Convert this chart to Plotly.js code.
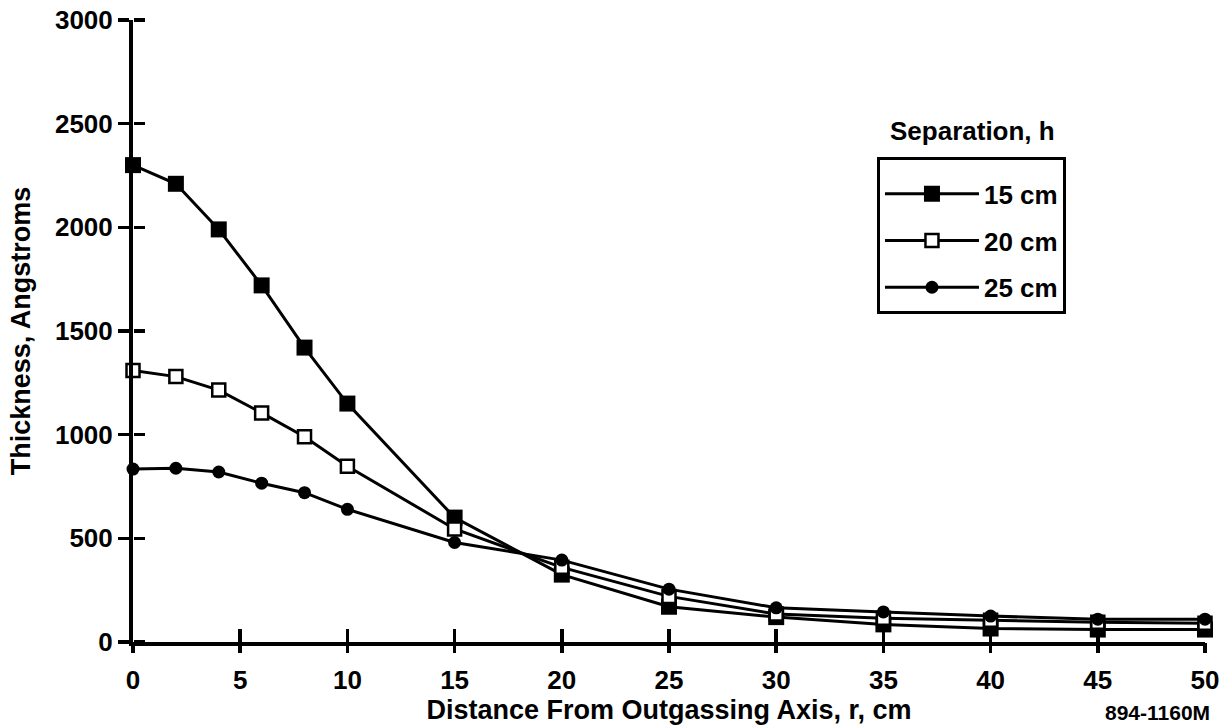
<!DOCTYPE html>
<html>
<head>
<meta charset="utf-8">
<script src="https://cdn.plot.ly/plotly-3.0.1.min.js"></script>
<style>html,body{margin:0;padding:0;background:#fff;}#chart{width:1227px;height:725px;}</style>
</head>
<body>
<div id="chart"></div>
<script>
// Distance from outgassing axis, r (cm)
const rValues = [0, 2, 4, 6, 8, 10, 15, 20, 25, 30, 35, 40, 45, 50];
// Thickness (Angstroms) for each separation h
const thick15 = [2300, 2210, 1990, 1720, 1420, 1150, 600, 325, 170, 120, 85, 65, 60, 60];
const thick20 = [1310, 1280, 1215, 1105, 990, 848, 545, 360, 220, 135, 115, 105, 95, 90];
const thick25 = [834, 838, 820, 766, 720, 640, 480, 395, 255, 165, 145, 125, 110, 110];
const seriesNames = ['15 cm', '20 cm', '25 cm'];
const xTicks = [0, 5, 10, 15, 20, 25, 30, 35, 40, 45, 50];
const yTicks = [0, 500, 1000, 1500, 2000, 2500, 3000];

const FONT = 'Liberation Sans, Arial, Helvetica, sans-serif';
const lineStyle = {color: '#000', width: 3};

const traces = [
  {x: rValues, y: thick15, name: seriesNames[0], mode: 'lines+markers', cliponaxis: false,
   line: lineStyle, legendgroup: 'a',
   marker: {symbol: 'square', size: 16, color: '#000', line: {color: '#000', width: 0}}},
  {x: rValues, y: thick20, name: seriesNames[1], mode: 'lines+markers', cliponaxis: false,
   line: lineStyle, legendgroup: 'b',
   marker: {symbol: 'square', size: 13, color: '#fff', line: {color: '#000', width: 2.5}}},
  {x: rValues, y: thick25, name: seriesNames[2], mode: 'lines+markers', cliponaxis: false,
   line: lineStyle, legendgroup: 'c',
   marker: {symbol: 'circle', size: 13, color: '#000', line: {color: '#000', width: 0}}}
];

const layout = {
  width: 1227, height: 725,
  margin: {l: 133, r: 22, t: 20, b: 83},
  paper_bgcolor: '#fff', plot_bgcolor: '#fff',
  font: {family: FONT, color: '#000', size: 26, weight: 700},
  showlegend: true,
  legend: {
    x: 0.694, y: 0.78, xanchor: 'left', yanchor: 'top',
    bordercolor: '#000', borderwidth: 3, bgcolor: '#fff',
    font: {family: FONT, size: 26, weight: 700, color: '#000'},
    title: {text: '&nbsp;', font: {family: FONT, size: 8}},
    traceorder: 'grouped', tracegroupgap: 10, itemwidth: 94
  },
  xaxis: {
    range: [0, 50], tickvals: xTicks, ticktext: xTicks.map(String),
    showline: true, linecolor: '#000', linewidth: 4,
    ticks: 'inside', ticklen: 13, tickwidth: 3.5, tickcolor: '#000',
    ticklabelstandoff: 12,
    showgrid: false, zeroline: false,
    tickfont: {family: FONT, size: 26, weight: 700},
    title: {text: 'Distance From Outgassing Axis, r, cm', standoff: 5,
            font: {family: FONT, size: 27, weight: 700}}
  },
  xaxis2: {
    range: [0, 50], overlaying: 'x', anchor: 'free', position: 0, side: 'bottom', tickvals: xTicks,
    showticklabels: false, showline: false, showgrid: false, zeroline: false,
    ticks: 'outside', ticklen: 10, tickwidth: 3.5, tickcolor: '#000'
  },
  yaxis: {
    range: [0, 3000], tickvals: yTicks, ticktext: yTicks.map(String),
    showline: true, linecolor: '#000', linewidth: 4,
    ticks: 'outside', ticklen: 11, tickwidth: 3.5, tickcolor: '#000',
    showgrid: false, zeroline: false,
    tickfont: {family: FONT, size: 26, weight: 700},
    title: {text: 'Thickness, Angstroms', standoff: 18,
            font: {family: FONT, size: 27, weight: 700}}
  },
  yaxis2: {
    range: [0, 3000], overlaying: 'y', anchor: 'free', position: 0, side: 'right', tickvals: yTicks,
    showticklabels: false, showline: false, showgrid: false, zeroline: false,
    ticks: 'outside', ticklen: 11, tickwidth: 3.5, tickcolor: '#000'
  },
  annotations: [
    {text: 'Separation, h', xref: 'paper', yref: 'paper', x: 0.783, y: 0.8215,
     xanchor: 'center', yanchor: 'middle', showarrow: false,
     font: {family: FONT, size: 26, weight: 700, color: '#000'}},
    {text: '894-1160M', xref: 'paper', yref: 'paper', x: 1.0065, y: -0.114,
     xanchor: 'right', yanchor: 'middle', showarrow: false,
     font: {family: FONT, size: 21, weight: 700, color: '#000'}}
  ]
};

// invisible helper trace so the overlay tick axes are drawn
traces.push({x: [0], y: [0], xaxis: 'x2', yaxis: 'y2', mode: 'markers', showlegend: false,
             hoverinfo: 'skip', marker: {opacity: 0}});

Plotly.newPlot('chart', traces, layout, {displayModeBar: false, staticPlot: true});
</script>
</body>
</html>
